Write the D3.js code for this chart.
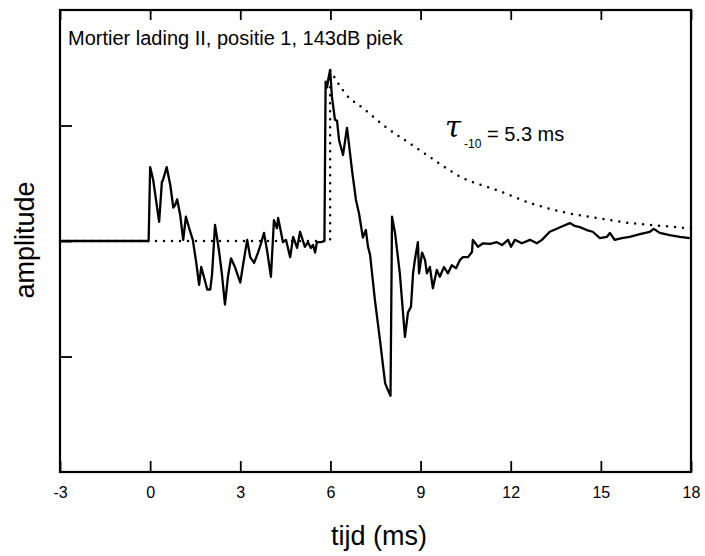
<!DOCTYPE html>
<html>
<head>
<meta charset="utf-8">
<script src="https://cdn.jsdelivr.net/npm/d3@7"></script>
<style>
  html, body { margin: 0; padding: 0; background: #fff; }
  svg { display: block; }
  text { font-family: "Liberation Sans", Arial, Helvetica, sans-serif; fill: #000; }
</style>
</head>
<body>
<svg id="chart" width="705" height="556"></svg>
<script>
// Pressure trace: time in ms, amplitude in arbitrary units (0 = ambient)
const timeMs = [
  -3, -0.05, 0.0, 0.10, 0.30, 0.39, 0.43, 0.55, 0.67, 0.77, 0.83, 0.90, 1.00, 1.10, 1.19, 1.30,
  1.42, 1.53, 1.63, 1.70, 1.80, 1.90, 2.00, 2.06, 2.16, 2.29, 2.39, 2.49, 2.59, 2.69, 2.83, 3.00,
  3.09, 3.23, 3.33, 3.46, 3.59, 3.69, 3.79, 3.89, 4.02, 4.12, 4.22, 4.26, 4.42, 4.52, 4.66, 4.76,
  4.89, 4.99, 5.15, 5.25, 5.35, 5.42, 5.49, 5.55, 5.69, 5.80, 5.84, 5.89, 5.92, 5.99, 6.05, 6.15,
  6.22, 6.29, 6.42, 6.55, 6.58, 6.72, 6.85, 6.95, 7.08, 7.18, 7.25, 7.32, 7.48, 7.65, 7.82, 7.88,
  8.00, 8.05, 8.15, 8.31, 8.48, 8.58, 8.68, 8.75, 8.81, 8.91, 8.95, 9.05, 9.15, 9.21, 9.31, 9.41,
  9.54, 9.64, 9.78, 9.91, 10.04, 10.18, 10.31, 10.41, 10.58, 10.71, 10.74, 10.91, 11.08, 11.31, 11.54, 11.71,
  11.91, 12.01, 12.14, 12.37, 12.64, 12.87, 13.04, 13.30, 13.57, 13.74, 13.97, 14.13, 14.30, 14.53, 14.73, 14.97,
  15.20, 15.30, 15.46, 15.70, 15.96, 16.30, 16.63, 16.76, 16.96, 17.29, 17.63, 17.96
];
const amplitude = [
  0, 0, 0.64, 0.53, 0.165, 0.51, 0.53, 0.64, 0.485, 0.29, 0.31, 0.36, 0.225, 0.01, 0.21, 0.11,
  0.01, -0.18, -0.38, -0.225, -0.32, -0.42, -0.42, -0.29, 0.14, -0.08, -0.29, -0.55, -0.31, -0.15, -0.23, -0.36,
  -0.21, 0.01, -0.14, -0.19, -0.10, -0.02, 0.07, -0.08, -0.31, 0.18, 0.11, 0.20, -0.01, 0.01, -0.14, 0.035,
  -0.06, 0.08, -0.05, -0.01, -0.06, -0.035, -0.10, -0.01, -0.01, 0, 1.38, 1.33, 1.39, 1.48, 1.25, 1.05,
  1.04, 0.87, 0.745, 0.98, 0.92, 0.61, 0.355, 0.24, 0.03, 0.095, -0.05, -0.12, -0.51, -0.86, -1.23, -1.27,
  -1.34, 0.21, 0.07, -0.28, -0.83, -0.62, -0.57, -0.28, -0.165, -0.01, -0.28, -0.10, -0.165, -0.28, -0.225, -0.41,
  -0.25, -0.31, -0.225, -0.28, -0.21, -0.235, -0.165, -0.14, -0.14, -0.095, 0.01, -0.05, -0.02, -0.025, -0.01, -0.035,
  0.01, -0.05, 0.01, -0.02, 0.01, -0.02, 0.01, 0.08, 0.11, 0.13, 0.155, 0.13, 0.12, 0.095, 0.08, 0.025,
  0.035, 0.07, 0.01, 0.025, 0.035, 0.06, 0.08, 0.105, 0.07, 0.05, 0.035, 0.025
];

// Idealised reference: zero until the arrival, then a step to the peak
const stepTime = [-3, 5.99, 5.99];
const stepValue = [0, 0, 1.48];

// Decay envelope after the peak
const envTime = [5.99, 6.55, 7.08, 7.88, 8.55, 9.21, 10.41, 11.54, 12.64, 13.74, 14.87, 15.97, 17.07, 18.0];
const envValue = [1.48, 1.26, 1.15, 0.98, 0.86, 0.745, 0.545, 0.44, 0.33, 0.25, 0.20, 0.156, 0.13, 0.11];

const xTicks = [-3, 0, 3, 6, 9, 12, 15, 18];
const yTicks = [-1, 0, 1];

const titleText = "Mortier lading II, positie 1, 143dB piek";
const xLabel = "tijd (ms)";
const yLabel = "amplitude";

const svg = d3.select("#chart");
const plotL = 60, plotR = 691, plotT = 10, plotB = 472;

const x = d3.scaleLinear().domain([-3, 18]).range([plotL, plotR]);
const y = d3.scaleLinear().domain([-2, 2]).range([plotB, plotT]);

// Axes with inward ticks
const axB = svg.append("g").attr("transform", `translate(0,${plotB})`)
  .call(d3.axisBottom(x).tickValues(xTicks).tickSize(-11).tickPadding(15).tickFormat(d => String(d)));
const axT = svg.append("g").attr("transform", `translate(0,${plotT})`)
  .call(d3.axisTop(x).tickValues(xTicks).tickSize(-10).tickFormat(""));
const axL = svg.append("g").attr("transform", `translate(${plotL},0)`)
  .call(d3.axisLeft(y).tickValues(yTicks).tickSize(-12).tickFormat(""));

[axB, axT, axL].forEach(g => {
  g.select(".domain").remove();
  g.selectAll(".tick line").attr("stroke", "#000").attr("stroke-width", 1.8);
});
axB.selectAll(".tick text")
  .attr("font-size", 16)
  .style("font-family", "'Liberation Sans', Arial, Helvetica, sans-serif")
  .attr("fill", "#000");

// Dotted reference curve
const line = d3.line().x(d => x(d[0])).y(d => y(d[1]));
const smooth = d3.line().x(d => x(d[0])).y(d => y(d[1])).curve(d3.curveMonotoneX);

svg.append("path")
  .datum(d3.zip(stepTime, stepValue))
  .attr("d", line)
  .attr("fill", "none").attr("stroke", "#000")
  .attr("stroke-width", 2.5).attr("stroke-linecap", "round")
  .attr("stroke-dasharray", "0 8");

svg.append("path")
  .datum(d3.zip(envTime, envValue))
  .attr("d", smooth)
  .attr("fill", "none").attr("stroke", "#000")
  .attr("stroke-width", 2.5).attr("stroke-linecap", "round")
  .attr("stroke-dasharray", "0 8");

// Measured trace
svg.append("path")
  .datum(d3.zip(timeMs, amplitude))
  .attr("d", line)
  .attr("fill", "none").attr("stroke", "#000")
  .attr("stroke-width", 2.3).attr("stroke-linejoin", "round");

// Frame
svg.append("rect")
  .attr("x", plotL).attr("y", plotT)
  .attr("width", plotR - plotL).attr("height", plotB - plotT)
  .attr("fill", "none").attr("stroke", "#000").attr("stroke-width", 2.2);

// Annotations
svg.append("text")
  .attr("x", 68).attr("y", 45)
  .attr("font-size", 20)
  .text(titleText);

svg.append("text")
  .attr("x", 445).attr("y", 137)
  .style("font-family", "'DejaVu Serif', serif")
  .attr("font-style", "italic")
  .attr("font-size", 29)
  .text("τ");
svg.append("text")
  .attr("x", 464).attr("y", 148)
  .attr("font-size", 12)
  .text("-10");
svg.append("text")
  .attr("x", 487).attr("y", 141)
  .attr("font-size", 20)
  .text("= 5.3 ms");

svg.append("text")
  .attr("x", 379).attr("y", 545)
  .attr("text-anchor", "middle")
  .attr("font-size", 27)
  .text(xLabel);

svg.append("text")
  .attr("transform", "translate(34,240) rotate(-90)")
  .attr("text-anchor", "middle")
  .attr("font-size", 27)
  .text(yLabel);
</script>
</body>
</html>
